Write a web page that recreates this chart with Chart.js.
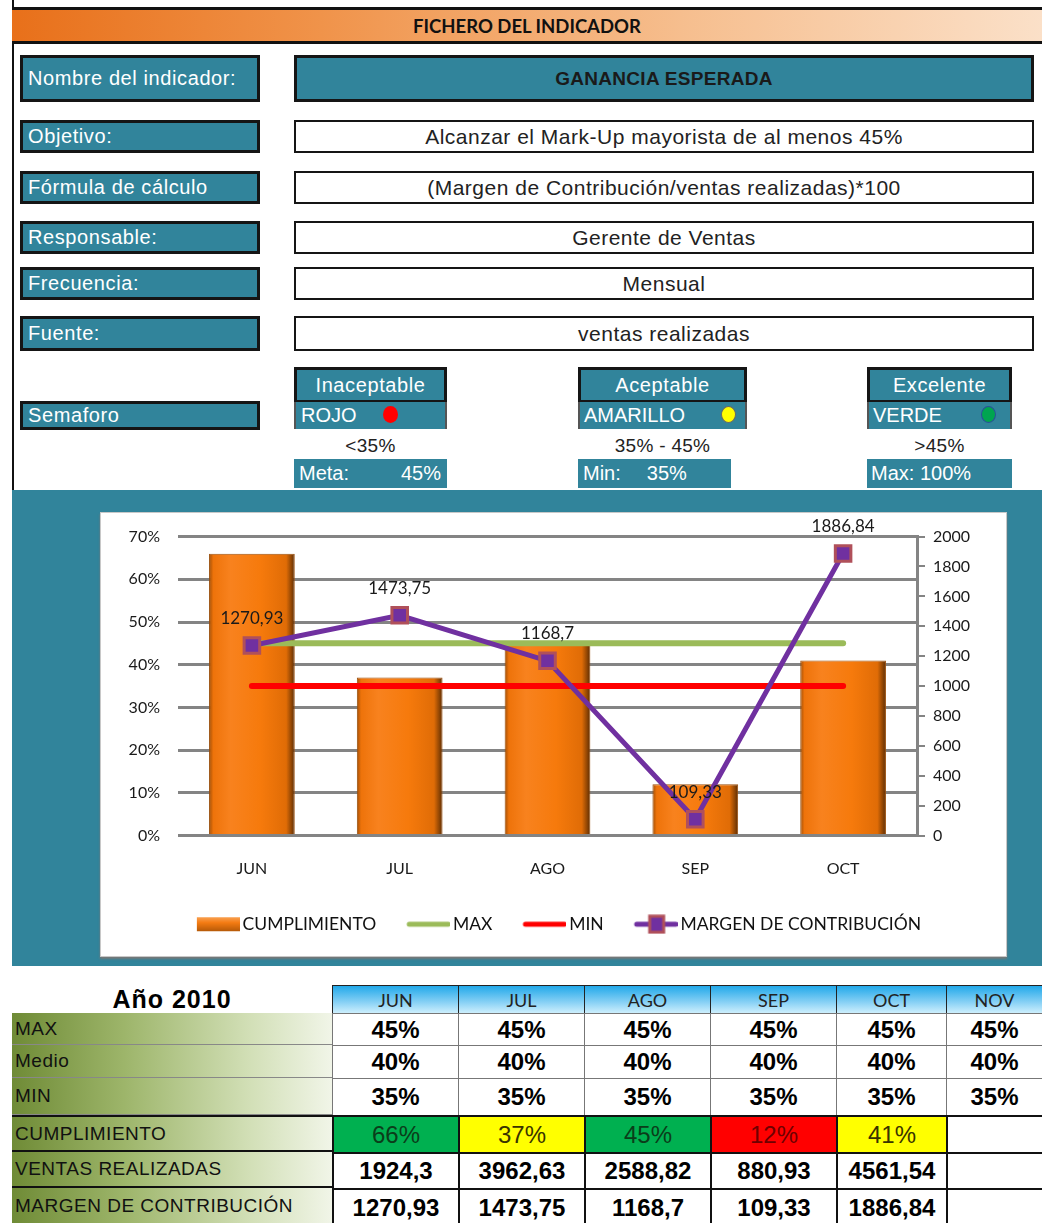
<!DOCTYPE html>
<html>
<head>
<meta charset="utf-8">
<script src="https://cdn.jsdelivr.net/npm/chart.js@4.4.0/dist/chart.umd.min.js"></script>
<style>
body{margin:0;width:1042px;height:1223px;position:relative;background:#fff;font-family:'Liberation Sans',Arial,sans-serif;overflow:hidden}
.b{position:absolute;box-sizing:border-box;display:flex;align-items:center;white-space:nowrap}
.teal{background:#31849B;color:#fff;border:3px solid #151515;font-size:20px;letter-spacing:0.6px;padding-left:5px}
.wht{background:#fff;border:2px solid #151515;justify-content:center;color:#222;font-size:21px;letter-spacing:0.5px}
.c{justify-content:center;padding-left:0}
.dot{position:absolute;width:15px;height:17px;border-radius:50%;box-sizing:border-box}
.lbl{position:absolute;font-size:19px;color:#222;text-align:center;letter-spacing:0.3px}
.cell{position:absolute;box-sizing:border-box;display:flex;align-items:center;justify-content:center;white-space:nowrap}
</style>
</head>
<body>
<div style="position:absolute;left:12px;top:0;width:2px;height:490px;background:#111"></div>
<div class="b" style="left:12px;top:7px;width:1030px;height:37px;border-top:3px solid #111;border-bottom:3px solid #111;justify-content:center;font-family:Lato,sans-serif;font-weight:bold;font-size:18.5px;color:#111;background:linear-gradient(to right,#E8701A 0%,#F0934A 30%,#F6BE8E 65%,#FBE0C8 100%)">FICHERO DEL INDICADOR</div>

<div class="b teal" style="left:20px;top:55px;width:240px;height:47px">Nombre del indicador:</div>
<div class="b teal c" style="left:294px;top:55px;width:740px;height:47px;color:#1a1a1a;font-weight:bold;font-size:19px;letter-spacing:0.3px">GANANCIA ESPERADA</div>

<div class="b teal" style="left:20px;top:120px;width:240px;height:33px">Objetivo:</div>
<div class="b wht" style="left:294px;top:120px;width:740px;height:33px">Alcanzar el Mark-Up mayorista de al menos 45%</div>

<div class="b teal" style="left:20px;top:171px;width:240px;height:33px">Fórmula de cálculo</div>
<div class="b wht" style="left:294px;top:171px;width:740px;height:33px">(Margen de Contribución/ventas realizadas)*100</div>

<div class="b teal" style="left:20px;top:221px;width:240px;height:33px">Responsable:</div>
<div class="b wht" style="left:294px;top:221px;width:740px;height:33px">Gerente de Ventas</div>

<div class="b teal" style="left:20px;top:267px;width:240px;height:33px">Frecuencia:</div>
<div class="b wht" style="left:294px;top:267px;width:740px;height:33px">Mensual</div>

<div class="b teal" style="left:20px;top:316px;width:240px;height:35px">Fuente:</div>
<div class="b wht" style="left:294px;top:316px;width:740px;height:35px">ventas realizadas</div>

<div class="b teal" style="left:20px;top:401px;width:240px;height:29px">Semaforo</div>

<div class="b teal c" style="left:294px;top:367px;width:153px;height:36px">Inaceptable</div>
<div class="b" style="left:294px;top:402px;width:153px;height:27px;background:#31849B;color:#fff;font-size:20px;padding-left:5px;border-left:2px solid #555;border-right:2px solid #555">ROJO</div>
<div class="dot" style="left:383px;top:406px;background:#FF0000"></div>
<div class="lbl" style="left:294px;top:435px;width:153px">&lt;35%</div>
<div class="b" style="left:294px;top:459px;width:153px;height:29px;background:#31849B;color:#fff;font-size:20px;padding:0 6px 0 5px;justify-content:space-between"><span>Meta:</span><span>45%</span></div>

<div class="b teal c" style="left:578px;top:367px;width:169px;height:36px">Aceptable</div>
<div class="b" style="left:578px;top:402px;width:169px;height:27px;background:#31849B;color:#fff;font-size:20px;padding-left:4px;border-left:2px solid #555;border-right:2px solid #555">AMARILLO</div>
<div class="dot" style="left:721px;top:406px;background:#FFFF00;border:1px solid #666"></div>
<div class="lbl" style="left:578px;top:435px;width:169px">35% - 45%</div>
<div class="b" style="left:578px;top:459px;width:153px;height:29px;background:#31849B;color:#fff;font-size:20px;padding-left:5px"><span>Min:</span><span style="margin-left:26px">35%</span></div>

<div class="b teal c" style="left:867px;top:367px;width:145px;height:36px">Excelente</div>
<div class="b" style="left:867px;top:402px;width:145px;height:27px;background:#31849B;color:#fff;font-size:20px;padding-left:4px;border-left:2px solid #555;border-right:2px solid #555">VERDE</div>
<div class="dot" style="left:981px;top:406px;background:#00A550;border:1px solid #2a4f9a"></div>
<div class="lbl" style="left:867px;top:435px;width:145px">&gt;45%</div>
<div class="b" style="left:867px;top:459px;width:145px;height:29px;background:#31849B;color:#fff;font-size:20px;padding-left:4px">Max: 100%</div>

<div style="position:absolute;left:12px;top:490px;width:1030px;height:476px;background:#31849B"></div>
<div style="position:absolute;left:100px;top:512px;width:905px;height:443px;background:#fff;border:1px solid #c8c8c8;box-shadow:0 2px 2px #777">
  <canvas id="grafico" width="905" height="443" style="display:block;position:relative;top:-4px"></canvas>
</div>

<div id="tabla"></div>

<script>
// datos del grafico
const meses = ['JUN', 'JUL', 'AGO', 'SEP', 'OCT'];
const cumplimiento = [66, 37, 45, 12, 41];
const metaMax = [45, 45, 45, 45, 45];
const metaMin = [35, 35, 35, 35, 35];
const margen = [1270.93, 1473.75, 1168.7, 109.33, 1886.84];

// datos de la tabla
const mesesTabla = ['JUN', 'JUL', 'AGO', 'SEP', 'OCT', 'NOV'];
const filaMax = [45, 45, 45, 45, 45, 45];
const filaMedio = [40, 40, 40, 40, 40, 40];
const filaMin = [35, 35, 35, 35, 35, 35];
const ventas = [1924.3, 3962.63, 2588.82, 880.93, 4561.54];

function coma(v) { return String(v).replace('.', ','); }

// ---- tabla ----
var colX = [12, 332, 458, 584, 710, 836, 946, 1042];
var filaY = [985, 1013, 1045, 1078, 1115, 1152, 1188, 1224];
var tabla = document.getElementById('tabla');
function celda(x0, x1, y0, y1, txt, estilo) {
    var d = document.createElement('div');
    d.className = 'cell';
    d.style.cssText += 'left:' + x0 + 'px;top:' + y0 + 'px;width:' + (x1 - x0) + 'px;height:' + (y1 - y0) + 'px;' + estilo;
    d.textContent = txt;
    tabla.appendChild(d);
}
var verde = 'justify-content:flex-start;padding-left:3px;font-size:19px;letter-spacing:0.5px;color:#111;background:linear-gradient(to right,#6F8B36 0%,#9DB56A 35%,#D3E0B8 75%,#F1F5E8 100%);';
var negrita = 'font-weight:bold;font-size:24px;color:#000;';
celda(12, 332, filaY[0], filaY[1], 'Año 2010', 'font-weight:900;font-size:25px;letter-spacing:1px;color:#000;');
mesesTabla.forEach(function(m, i) {
    celda(colX[i + 1], colX[i + 2] + 1, filaY[0], filaY[1] + 1, m, 'font-family:Lato,sans-serif;font-size:18px;color:#222;border:1px solid #222;background:linear-gradient(to bottom,#22A9EA 0%,#7FCDF4 55%,#CDEFFD 100%);');
});
[['MAX', filaMax], ['Medio', filaMedio], ['MIN', filaMin]].forEach(function(f, r) {
    celda(colX[0], colX[1], filaY[r + 1], filaY[r + 2], f[0], verde + 'border-bottom:1px solid #888;');
    f[1].forEach(function(v, i) {
        celda(colX[i + 1], colX[i + 2] + 1, filaY[r + 1], filaY[r + 2] + 1, v + '%', negrita + 'border:1px solid #777;');
    });
});
function colorSemaforo(v) {
    if (v >= 45) return ['#00B050', '#0b3d1a'];
    if (v >= 35) return ['#FFFF00', '#3a3300'];
    return ['#FF0000', '#6e0000'];
}
celda(colX[0], colX[1], filaY[4], filaY[5], 'CUMPLIMIENTO', verde + 'border-top:2px solid #111;border-bottom:2px solid #111;');
celda(colX[0], colX[1], filaY[5], filaY[6], 'VENTAS REALIZADAS', verde + 'border-bottom:2px solid #111;');
celda(colX[0], colX[1], filaY[6], filaY[7], 'MARGEN DE CONTRIBUCIÓN', verde);
mesesTabla.forEach(function(m, i) {
    var x0 = colX[i + 1], x1 = colX[i + 2] + 2;
    if (i < cumplimiento.length) {
        var c = colorSemaforo(cumplimiento[i]);
        celda(x0, x1, filaY[4], filaY[5] + 2, cumplimiento[i] + '%', 'font-size:24px;background:' + c[0] + ';color:' + c[1] + ';border:2px solid #111;');
        celda(x0, x1, filaY[5], filaY[6] + 2, coma(ventas[i]), negrita + 'border:2px solid #111;');
        celda(x0, x1, filaY[6], filaY[7] + 2, coma(margen[i]), negrita + 'border:2px solid #111;border-bottom:none;');
    } else {
        celda(x0, 1042, filaY[4], filaY[5] + 2, '', 'border-top:2px solid #111;border-bottom:2px solid #111;');
        celda(x0, 1042, filaY[5], filaY[6] + 2, '', 'border-bottom:2px solid #111;');
    }
});

// ---- iconos de la leyenda ----
function icono(dibujar) {
    var c = document.createElement('canvas');
    c.width = 60; c.height = 20;
    dibujar(c.getContext('2d'));
    return c;
}
var iconoBarra = icono(function(g) {
    var gr = g.createLinearGradient(0, 3, 0, 17);
    gr.addColorStop(0, '#F9A050'); gr.addColorStop(0.4, '#F47B12'); gr.addColorStop(1, '#B65A08');
    g.fillStyle = gr; g.fillRect(17, 3, 43, 14);
});
function iconoLinea(color, marca) {
    return icono(function(g) {
        g.strokeStyle = color; g.lineWidth = 5; g.lineCap = 'round';
        g.beginPath(); g.moveTo(19, 10); g.lineTo(58, 10); g.stroke();
        if (marca) {
            g.fillStyle = '#7030A0'; g.strokeStyle = '#B0505A'; g.lineWidth = 3;
            g.fillRect(32, 2, 14, 16); g.strokeRect(32, 2, 14, 16);
        }
    });
}

// ---- grafico ----
function rellenoBarra(ctx) {
    var chart = ctx.chart;
    var xs = chart.scales.x;
    if (!xs || ctx.dataIndex === undefined || !chart.chartArea) return '#F47B0E';
    var cx = xs.getPixelForValue(ctx.dataIndex);
    var w = xs.width / meses.length * 0.58;
    var gr = chart.ctx.createLinearGradient(cx - w / 2, 0, cx + w / 2, 0);
    gr.addColorStop(0, '#A04E06');
    gr.addColorStop(0.05, '#EE730A');
    gr.addColorStop(0.25, '#F8821E');
    gr.addColorStop(0.6, '#F67A0C');
    gr.addColorStop(0.9, '#E06C06');
    gr.addColorStop(0.97, '#844004');
    gr.addColorStop(1, '#5a2a02');
    return gr;
}

var etiquetas = {
    id: 'etiquetas',
    afterDatasetsDraw: function(chart) {
        var meta = chart.getDatasetMeta(3);
        var g = chart.ctx;
        g.save();
        g.font = '17px Lato, sans-serif';
        g.fillStyle = '#1a1a1a';
        g.textAlign = 'center';
        g.textBaseline = 'middle';
        meta.data.forEach(function(p, i) {
            g.fillText(coma(margen[i]), p.x, p.y - 27);
        });
        g.restore();
    }
};

var fuente = { family: 'Lato, sans-serif', size: 16 };
new Chart(document.getElementById('grafico'), {
    data: {
        labels: meses,
        datasets: [
            { type: 'bar', label: 'CUMPLIMIENTO', data: cumplimiento, yAxisID: 'y', order: 4,
              backgroundColor: rellenoBarra, borderColor: '#9a4f0c', borderWidth: 1,
              barPercentage: 0.58, categoryPercentage: 1 },
            { type: 'line', label: 'MAX', data: metaMax, yAxisID: 'y', order: 3,
              borderColor: '#9BBB59', borderWidth: 6, pointRadius: 0, borderCapStyle: 'round' },
            { type: 'line', label: 'MIN', data: metaMin, yAxisID: 'y', order: 2,
              borderColor: '#FF0000', borderWidth: 6, pointRadius: 0, borderCapStyle: 'round' },
            { type: 'line', label: 'MARGEN DE CONTRIBUCIÓN', data: margen, yAxisID: 'y1', order: 1,
              borderColor: '#7030A0', borderWidth: 5, pointStyle: 'rect', pointRadius: 11,
              pointBackgroundColor: '#7030A0', pointBorderColor: '#B0505A', pointBorderWidth: 3 }
        ]
    },
    options: {
        responsive: false,
        animation: false,
        devicePixelRatio: 1,
        layout: { padding: { top: 20, left: 0, right: 0, bottom: 9 } },
        plugins: {
            tooltip: { enabled: false },
            legend: {
                position: 'bottom',
                labels: {
                    usePointStyle: true,
                    pointStyleWidth: 48,
                    boxHeight: 16,
                    padding: 20,
                    color: '#111',
                    font: { family: 'Lato, sans-serif', size: 17.5 },
                    generateLabels: function(chart) {
                        var iconos = [iconoBarra, iconoLinea('#9BBB59'), iconoLinea('#FF0000'), iconoLinea('#7030A0', true)];
                        return chart.data.datasets.map(function(ds, i) {
                            return { text: ds.label, datasetIndex: i, pointStyle: iconos[i], fillStyle: 'transparent', strokeStyle: 'transparent', lineWidth: 0, fontColor: '#111' };
                        });
                    }
                }
            }
        },
        scales: {
            x: {
                grid: { display: false },
                border: { display: false },
                ticks: { color: '#1a1a1a', font: fuente, padding: 16 },
                afterFit: function(s) { s.height = 60; }
            },
            y: {
                position: 'left',
                min: 0, max: 70,
                ticks: { stepSize: 10, color: '#1a1a1a', font: fuente, padding: 18, callback: function(v) { return v + '%'; } },
                grid: { color: '#848484', lineWidth: 3, drawTicks: false },
                border: { display: false },
                afterFit: function(s) { s.width = 77; }
            },
            y1: {
                position: 'right',
                min: 0, max: 2000,
                ticks: { stepSize: 200, color: '#1a1a1a', font: fuente, padding: 8, callback: function(v) { return String(v); } },
                grid: { drawOnChartArea: false, color: '#848484', lineWidth: 2, tickLength: 8 },
                border: { display: true, color: '#848484', width: 3 },
                afterFit: function(s) { s.width = 89; }
            }
        }
    },
    plugins: [etiquetas]
});
</script>
</body>
</html>
